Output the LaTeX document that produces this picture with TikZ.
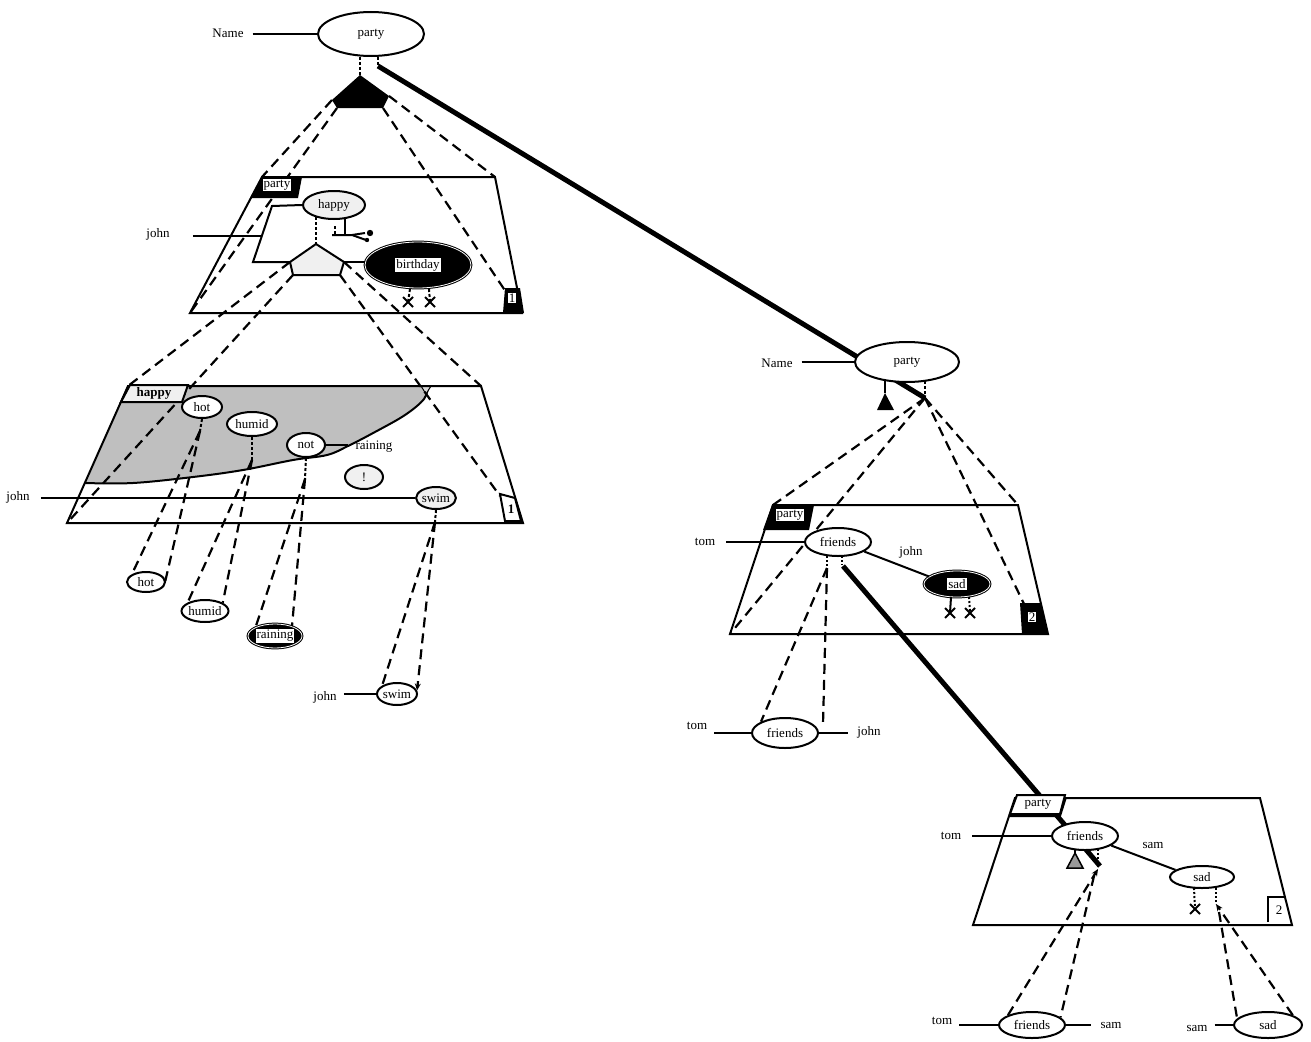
\documentclass[tikz,border=0pt]{standalone}
\usepackage{fontspec}
\setmainfont{Liberation Serif}
\usetikzlibrary{shapes.geometric,shapes.misc,arrows.meta}
\begin{document}
\begin{tikzpicture}[x=1pt,y=-1pt,font=\fontsize{13}{15}\selectfont,
  edge/.style={line width=2pt,line join=miter},
  cone/.style={line width=2.2pt,dash pattern=on 10pt off 6pt},
  tick/.style={line width=2pt,dash pattern=on 3pt off 2pt},
  dotl/.style={line width=2pt,dash pattern=on 2pt off 2pt},
  link/.style={line width=2pt},
  heavy/.style={line width=5pt},
  oval/.style={ellipse,draw,line width=2pt,fill=white,inner sep=0pt},
  soft/.style={oval,fill=gray!12},
  dark/.style={ellipse,draw=black,line width=1pt,double=white,double distance=0.8pt,fill=black,inner sep=0pt},
  word/.style={inner sep=1pt},
  boxed/.style={fill=white,inner sep=1pt},
  xmark/.style={cross out,draw,line width=2pt,minimum size=8pt,inner sep=0pt},
  tip/.style={-{Stealth[length=7pt,width=6pt]}}]
\useasboundingbox (0,0) rectangle (1311,1041);

% ---------- planes ----------
\coordinate (p1a) at (262,177); \coordinate (p1b) at (495,177);
\coordinate (p1c) at (522,313); \coordinate (p1d) at (190,313);
\draw[edge] (p1a) -- (p1b) -- (p1c) -- (p1d) -- cycle;

\coordinate (p2a) at (128,386); \coordinate (p2b) at (481,386);
\coordinate (p2c) at (523,523); \coordinate (p2d) at (67,523);
\fill[gray!50] plot[smooth,tension=0.6] coordinates {(428,386) (424,399) (405,415) (375,432) (348,446) (327,455) (293,460) (243,470) (193,477) (133,483) (85,483)} -- (p2a) -- cycle;
\draw[link] plot[smooth,tension=0.6] coordinates {(428,386) (424,399) (405,415) (375,432) (348,446) (327,455) (293,460) (243,470) (193,477) (133,483) (85,483)};
\draw[line width=1pt,fill=gray!30] (421,386) -- (431,386) -- (426,394) -- cycle;
\draw[edge] (p2a) -- (p2b) -- (p2c) -- (p2d) -- cycle;

\coordinate (p3a) at (773,505); \coordinate (p3b) at (1018,505);
\coordinate (p3c) at (1048,634); \coordinate (p3d) at (730,634);
\draw[edge] (p3a) -- (p3b) -- (p3c) -- (p3d) -- cycle;

\coordinate (p4a) at (1015,798); \coordinate (p4b) at (1260,798);
\coordinate (p4c) at (1292,925); \coordinate (p4d) at (973,925);
\draw[edge] (p4a) -- (p4b) -- (p4c) -- (p4d) -- cycle;

% ---------- top concept ----------
\node[word] (nameA) at (228,33) {Name};
\node[oval,minimum width=106,minimum height=44] (partyA) at (371,34) {party};
\draw[link] ([xshift=8pt]nameA.east |- partyA.west) -- (partyA.west);

\coordinate (kT) at (360,75); \coordinate (kR) at (389,96);
\coordinate (kBR) at (383,108); \coordinate (kBL) at (337,108);
\coordinate (kL) at (332,100);
\fill (kT) -- (kR) -- (kBR) -- (kBL) -- (kL) -- cycle;
\draw[tick] (partyA.south -| kT) -- (kT);

\coordinate (heavyA) at (378,66);
\coordinate (heavyB) at (925,398);
\draw[tick] (partyA.south -| heavyA) -- (heavyA);
\draw[heavy] (heavyA) -- (heavyB);

% projection of the context onto plane 1
\draw[cone] (kL) -- (p1a);
\draw[cone] (kBL) -- (p1d);
\draw[cone] (kBR) -- (506,292);
\draw[cone] (kR) -- (p1b);

% ---------- plane 1 ----------
\fill (262,177) -- (302,177) -- (298,198) -- (250,198) -- cycle;
\node[boxed] (tagA) at (277,185) {party};
\fill (505,288) -- (520,288) -- (524,313) -- (503,313) -- cycle;
\node[boxed,inner sep=0.5pt] (numA) at (512,298) {1};

\node[word] (johnA) at (158,234) {john};
\node[soft,minimum width=62,minimum height=28] (happyA) at (334,205) {happy};
\coordinate (qT) at (316,244); \coordinate (qR) at (344,262);
\coordinate (qBR) at (340,275); \coordinate (qBL) at (293,275);
\coordinate (qL) at (290,262);
\coordinate (jA) at (262,236);
\draw[link] (happyA.west) -- (272,206) -- (253,262) -- (qL);
\draw[link] ([xshift=22pt]johnA.east |- jA) -- (jA);
\node[dark,minimum width=106,minimum height=46] (bdayA) at (418,265) {};
\node[boxed] (bdayT) at (bdayA.center) {birthday};
\draw[link] (qR) -- (qR -| bdayA.west);
\draw[edge,fill=gray!12] (qT) -- (qR) -- (qBR) -- (qBL) -- (qL) -- cycle;
\draw[tick] (316,217) -- (qT);

% small link below happy
\draw[link] (345,218) -- (345,235);
\draw[tick] (335,226) -- (335,235);
\draw[link] (332,235) -- (352,235) -- (366,240);
\draw[link] (352,235) -- (365,233);
\fill (370,233) circle (3.2);
\fill (367,240) circle (2.2);

% markers below birthday
\node[xmark] (xA1) at (408,302) {};
\node[xmark] (xA2) at (430,302) {};
\draw[tick] (410,289) -- (xA1.center);
\draw[tick] (429,289) -- (xA2.center);

% projection of the small context onto plane 2
\draw[cone] (qL) -- (p2a);
\draw[cone] (qBL) -- (p2d);
\draw[cone] (qBR) -- (500,496);
\draw[cone] (qR) -- (p2b);

% ---------- plane 2 ----------
\draw[edge,fill=gray!12] (130,385) -- (188,385) -- (182,402) -- (121,402) -- cycle;
\node[word,font=\fontsize{13}{15}\selectfont\bfseries] (tagB) at (154,393) {happy};
\draw[edge,fill=white] (500,494) -- (515,498) -- (521,521) -- (505,521) -- cycle;
\node[word,font=\fontsize{13}{15}\selectfont\bfseries] (numB) at (511,509) {1};

\node[oval,minimum width=40,minimum height=22] (hotB) at (202,407) {hot};
\node[oval,minimum width=50,minimum height=24] (humidB) at (252,424) {humid};
\node[oval,minimum width=38,minimum height=24] (notB) at (306,445) {not};
\node[word] (rainB) at (374,447) {raining};
\draw[link] (notB.east) -- ([xshift=-6pt]rainB.west |- notB.east);
\node[soft,minimum width=38,minimum height=24] (bangB) at (364,477) {!};
\node[word] (johnB) at (18,497) {john};
\node[soft,minimum width=38,minimum height=22] (swimB) at (436,498) {swim};
\draw[link] ([xshift=10pt]johnB.east |- swimB.west) -- (swimB.west);

% ---------- lower level of plane 2 ----------
\node[oval,minimum width=38,minimum height=20] (hotC) at (146,582) {hot};
\node[oval,minimum width=46,minimum height=22] (humidC) at (205,611) {humid};
\node[dark,minimum width=54,minimum height=24] (rainC) at (275,636) {};
\node[boxed] (rainT) at (rainC.center) {raining};
\node[oval,minimum width=40,minimum height=22] (swimC) at (397,694) {swim};
\node[word] (johnC) at (325,697) {john};
\draw[link] ([xshift=6pt]johnC.east |- swimC.west) -- (swimC.west);

\coordinate (hotK) at (200,431);
\coordinate (humK) at (252,460);
\coordinate (notK) at (305,479);
\coordinate (swimK) at (435,522);
\draw[tick] (hotB.south) -- (hotK);
\draw[tick] (humidB.south) -- (humK);
\draw[tick] (notB.south) -- (notK);
\draw[tick] (swimB.south) -- (swimK);
\draw[cone] (hotK) -- (hotC.north west);
\draw[cone] (hotK) -- (hotC.-15);
\draw[cone] (humK) -- (humidC.north west);
\draw[cone] (humK) -- (humidC.25);
\draw[cone] (notK) -- (rainC.north west);
\draw[cone] (notK) -- (rainC.30);
\draw[cone] (swimK) -- (swimC.north west);
\draw[cone,tip] (swimK) -- (swimC.10);

% ---------- right concept ----------
\node[word] (nameB) at (777,363) {Name};
\node[oval,minimum width=104,minimum height=40] (partyB) at (907,362) {party};
\draw[link] ([xshift=8pt]nameB.east |- partyB.west) -- (partyB.west);
\fill (885,393) -- (894,410) -- (877,410) -- cycle;
\draw[link] (885,380) -- (885,393);
\draw[tick] (925,381) -- (heavyB);

% projection onto plane 3
\draw[cone] (heavyB) -- (p3a);
\draw[cone] (heavyB) -- (p3d);
\draw[cone] (heavyB) -- (1024,604);
\draw[cone] (heavyB) -- (p3b);

% ---------- plane 3 ----------
\fill (772,505) -- (814,505) -- (809,530) -- (763,530) -- cycle;
\node[boxed] (tagC) at (790,515) {party};
\fill (1020,603) -- (1041,603) -- (1048,634) -- (1022,634) -- cycle;
\node[boxed,inner sep=0.5pt] (numC) at (1032,617) {2};

\coordinate (heavyC) at (843,566);
\coordinate (heavyD) at (1100,866);
\draw[heavy] (heavyC) -- (heavyD);

\node[word] (tomC) at (705,542) {tom};
\node[oval,minimum width=66,minimum height=28] (friendsC) at (838,542) {friends};
\draw[link] ([xshift=10pt]tomC.east |- friendsC.west) -- (friendsC.west);
\node[dark,minimum width=66,minimum height=26] (sadC) at (957,584) {};
\node[boxed] (sadT) at (sadC.center) {sad};
\draw[link] (friendsC.-20) -- (sadC.165);
\node[word] (johnD) at (911,552) {john};
\node[xmark] (xC1) at (950,613) {};
\node[xmark] (xC2) at (970,613) {};
\draw[link] (951,597) -- (xC1.center);
\draw[dotl] (969,597) -- (xC2.center);

\coordinate (frK) at (827,568);
\draw[dotl] (827,556) -- (frK);
\draw[dotl] (842,556) -- (842,565);

\node[oval,minimum width=66,minimum height=30] (friendsD) at (785,733) {friends};
\node[word] (tomD) at (697,726) {tom};
\node[word] (johnE) at (869,732) {john};
\draw[link] ([xshift=6pt]tomD.east |- friendsD.west) -- (friendsD.west);
\draw[link] (friendsD.east) -- ([xshift=-8pt]johnE.west |- friendsD.east);
\draw[cone] (frK) -- (friendsD.north west);
\draw[cone] (frK) -- ([xshift=4pt,yshift=9pt]friendsD.east);

% ---------- plane 4 ----------
\draw[edge,fill=white] (1017,795) -- (1065,795) -- (1060,814) -- (1010,814) -- cycle;
\draw[line width=2pt] (1010,816) -- (1060,816) -- (1066,797);
\node[word] (tagD) at (1038,804) {party};

\node[word] (tomE) at (951,836) {tom};
\node[oval,minimum width=66,minimum height=28] (friendsE) at (1085,836) {friends};
\draw[link] ([xshift=10pt]tomE.east |- friendsE.west) -- (friendsE.west);
\draw[line width=1.5pt,fill=gray!80] (1075,853) -- (1083,868) -- (1067,868) -- cycle;
\draw[link] (1075,849) -- (1075,853);
\draw[dotl] (1098,849) -- (1098,868);
\node[oval,minimum width=64,minimum height=22] (sadE) at (1202,877) {sad};
\draw[link] (friendsE.-20) -- (sadE.165);
\node[word] (samE) at (1153,845) {sam};
\node[xmark] (xE1) at (1195,909) {};
\draw[dotl] (1194,888) -- (xE1.center);
\coordinate (sadK) at (1216,904);
\draw[dotl] (1216,888) -- (sadK);
\draw[link] (1268,922) -- (1268,897) -- (1285,897);
\node[word] (numD) at (1279,910) {2};

% ---------- lower level of plane 4 ----------
\node[oval,minimum width=66,minimum height=26] (friendsF) at (1032,1025) {friends};
\node[word] (tomF) at (942,1021) {tom};
\node[word] (samF) at (1111,1025) {sam};
\draw[link] ([xshift=6pt]tomF.east |- friendsF.west) -- (friendsF.west);
\draw[link] (friendsF.east) -- ([xshift=-8pt]samF.west |- friendsF.east);
\node[oval,minimum width=68,minimum height=26] (sadF) at (1268,1025) {sad};
\node[word] (samG) at (1197,1028) {sam};
\draw[link] ([xshift=6pt]samG.east |- sadF.west) -- (sadF.west);

\draw[cone,tip] (friendsF.north west) -- (1098,869);
\draw[cone] (1094,876) -- (friendsF.15);
\draw[cone,tip] (sadF.north east) -- (sadK);
\draw[cone] (1219,912) -- (sadF.168);
\end{tikzpicture}
\end{document}
